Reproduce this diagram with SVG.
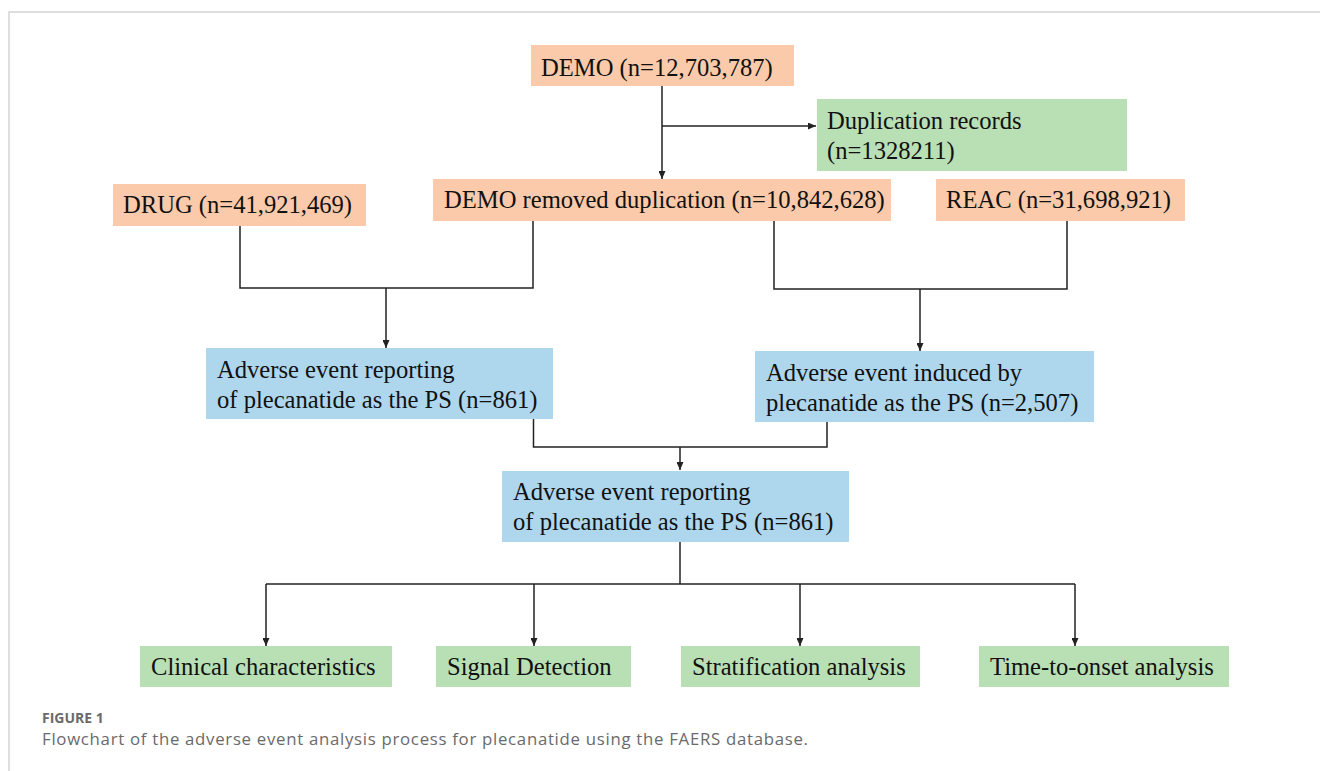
<svg xmlns="http://www.w3.org/2000/svg" width="1320" height="771" viewBox="0 0 1320 771">
<defs>
<style>
.t{font-family:"Liberation Serif","Times New Roman",serif;font-size:24.6px;fill:#111}
.or{fill:#FACAAA}
.gr{fill:#B9DFB5}
.bl{fill:#AED7EE}
.ln{fill:none;stroke:#222;stroke-width:1.5}
.cap1{font-family:"Open Sans","Noto Sans",sans-serif;font-size:14px;font-weight:bold;fill:#6a6a6a}
.cap2{font-family:"Open Sans","Noto Sans",sans-serif;font-size:16.8px;fill:#6a6a6a}
</style>
<marker id="ah" markerUnits="userSpaceOnUse" markerWidth="8" markerHeight="7" refX="8" refY="3.5" orient="auto">
<path d="M0,0 L8,3.5 L0,7 z" fill="#222"/>
</marker>
</defs>
<rect width="1320" height="771" fill="#fff"/>
<path d="M9,771 V12 H1320" fill="none" stroke="#d4d4d4" stroke-width="1.5"/>

<g id="n-demo"><rect class="or" x="531" y="45" width="263" height="41"/><text class="t" x="541" y="76">DEMO (n=12,703,787)</text></g>
<g id="n-dup"><rect class="gr" x="817" y="99" width="310" height="72"/><text class="t" x="827" y="129">Duplication records</text><text class="t" x="827" y="159">(n=1328211)</text></g>
<g id="n-drug"><rect class="or" x="113" y="184" width="253" height="42"/><text class="t" x="123" y="213">DRUG (n=41,921,469)</text></g>
<g id="n-demorm"><rect class="or" x="433" y="179" width="458" height="42"/><text class="t" x="444" y="208">DEMO removed duplication (n=10,842,628)</text></g>
<g id="n-reac"><rect class="or" x="936" y="179" width="249" height="42"/><text class="t" x="946" y="208">REAC (n=31,698,921)</text></g>
<g id="n-ae1"><rect class="bl" x="206" y="348" width="347" height="71"/><text class="t" x="217" y="378">Adverse event reporting</text><text class="t" x="217" y="408">of plecanatide as the PS (n=861)</text></g>
<g id="n-ae2"><rect class="bl" x="755" y="351" width="339" height="71"/><text class="t" x="766" y="381">Adverse event induced by</text><text class="t" x="766" y="411">plecanatide as the PS (n=2,507)</text></g>
<g id="n-ae3"><rect class="bl" x="502" y="471" width="347" height="71"/><text class="t" x="513" y="500">Adverse event reporting</text><text class="t" x="513" y="530">of plecanatide as the PS (n=861)</text></g>
<g id="n-clin"><rect class="gr" x="140" y="646" width="252" height="41"/><text class="t" x="151" y="675">Clinical characteristics</text></g>
<g id="n-sig"><rect class="gr" x="436" y="646" width="195" height="41"/><text class="t" x="447" y="675">Signal Detection</text></g>
<g id="n-strat"><rect class="gr" x="681" y="646" width="239" height="41"/><text class="t" x="692" y="675">Stratification analysis</text></g>
<g id="n-tto"><rect class="gr" x="979" y="646" width="250" height="41"/><text class="t" x="990" y="675">Time-to-onset analysis</text></g>

<g id="connectors">
<path class="ln" d="M662,86 V179" marker-end="url(#ah)"/>
<path class="ln" d="M662,126 H816" marker-end="url(#ah)"/>
<path class="ln" d="M240,226 V288 H533 V221"/>
<path class="ln" d="M386,288 V348" marker-end="url(#ah)"/>
<path class="ln" d="M774,221 V289 H1067 V221"/>
<path class="ln" d="M920,289 V351" marker-end="url(#ah)"/>
<path class="ln" d="M533.5,419 V447 H827 V422"/>
<path class="ln" d="M680,447 V470" marker-end="url(#ah)"/>
<path class="ln" d="M680,542 V584"/>
<path class="ln" d="M266,584 H1075"/>
<path class="ln" d="M266,584 V646" marker-end="url(#ah)"/>
<path class="ln" d="M534,584 V646" marker-end="url(#ah)"/>
<path class="ln" d="M800,584 V646" marker-end="url(#ah)"/>
<path class="ln" d="M1075,584 V646" marker-end="url(#ah)"/>
</g>

<text class="cap1" x="42" y="723">FIGURE 1</text>
<text class="cap2" x="42" y="745" textLength="766" lengthAdjust="spacing">Flowchart of the adverse event analysis process for plecanatide using the FAERS database.</text>
</svg>
